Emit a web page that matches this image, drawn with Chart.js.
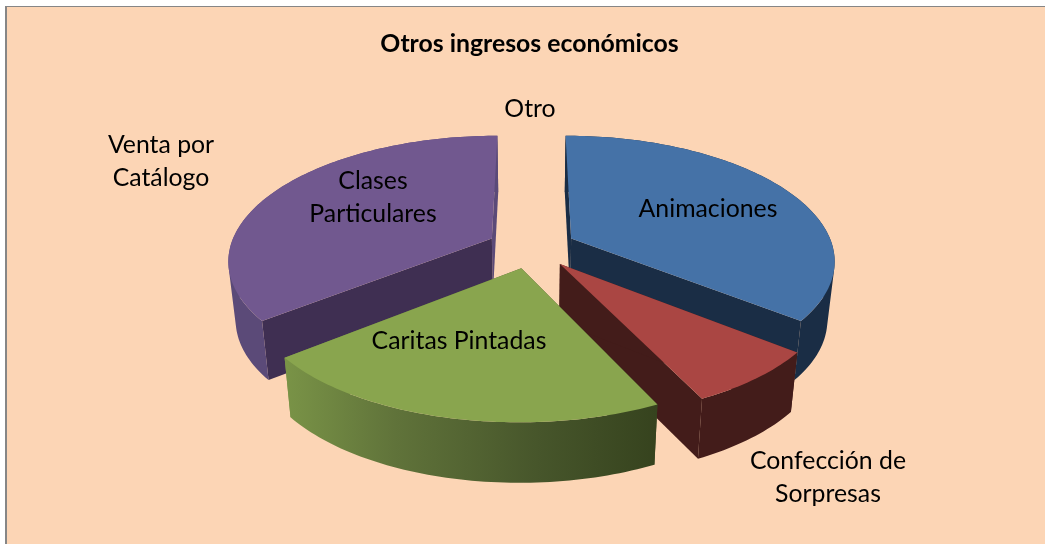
<!DOCTYPE html>
<html>
<head>
<meta charset="utf-8">
<style>
html,body{margin:0;padding:0;background:#fff;width:1045px;height:544px;overflow:hidden}
#panel{position:absolute;left:5px;top:6px;width:1038px;height:537px;background:#fcd5b5;border-left:2px solid #868686;border-top:1px solid #868686}
canvas{position:absolute;left:0;top:0}
</style>
<script src="https://cdn.jsdelivr.net/npm/chart.js@4"></script>
</head>
<body>
<div id="panel"></div>
<canvas id="c" width="1045" height="544" style="width:1045px;height:544px"></canvas>
<script>
const categories = [['Animaciones'],['Confección de','Sorpresas'],['Caritas Pintadas'],['Clases','Particulares'],['Venta por','Catálogo'],['Otro']];
const values = [10,2,6,10,0,0];
const topColors = ['#4572a7','#aa4643','#89a54e','#71588f','#4198af','#db843d'];
const chartTitle = 'Otros ingresos económicos';

// Projection of the tilted disc
const CX=531.5, CY=247.5, RX=262, RY=122, KX=0.165, KY=0.16, EXPLODE=0.17, DEPTH=58, SHRINK=0.976;
// Face colours: [end wall, start wall, outer wall]
const wallColors = [['#1a2d45','#1a2d45','#1a2d45'],['#431c1a','#431c1a','#431c1a'],null,['#5b4a78','#3f2f52','#5b4a78']];
const drawOrder = [0,3,1,2];
const labelAnchors = [[708,209],[828,461],[459,341],[373,181],[161,145],[530,109]];
const LABEL_LINE = 33;

function project(u,v){
  const sx=1/(1-KX*v), sy=1/(1-KY*v);
  return {x:CX+RX*u*sx, y:CY+RY*v*sy, d:DEPTH*Math.pow(sy,0.2)};
}
function down(p){ return {x:CX+(p.x-CX)*SHRINK, y:p.y+p.d}; }
function signedArea(q){
  let s=0;
  q.forEach((p,i)=>{ const r=q[(i+1)%q.length]; s+=p.x*r.y-r.x*p.y; });
  return s;
}

const pie3d = {
  id:'pie3d',
  beforeDatasetDraw(chart,args){
    const ctx=chart.ctx, arcs=args.meta.data;
    const greenGrad=ctx.createLinearGradient(283,0,656,0);
    greenGrad.addColorStop(0,'#7a9447');
    greenGrad.addColorStop(0.3,'#60733a');
    greenGrad.addColorStop(0.68,'#47562b');
    greenGrad.addColorStop(1,'#36431e');
    drawOrder.forEach(i=>{
      const arc=arcs[i];
      const a0=arc.startAngle+Math.PI/2, a1=arc.endAngle+Math.PI/2;
      if(a1-a0<1e-6) return;
      const m=(a0+a1)/2, ou=EXPLODE*Math.sin(m), ov=-EXPLODE*Math.cos(m);
      const rim=[]; const n=Math.max(6,Math.ceil((a1-a0)*48));
      for(let k=0;k<=n;k++){ const t=a0+(a1-a0)*k/n; rim.push(project(ou+Math.sin(t),ov-Math.cos(t))); }
      const apex=project(ou,ov);
      const cols=wallColors[i]||[greenGrad,greenGrad,greenGrad];
      const trace=pts=>{ pts.forEach((p,j)=>j?ctx.lineTo(p.x,p.y):ctx.moveTo(p.x,p.y)); ctx.closePath(); };
      const poly=(pts,fill)=>{ ctx.beginPath(); trace(pts); ctx.fillStyle=fill; ctx.fill(); };
      const last=rim[rim.length-1];
      poly([apex,last,down(last),down(apex)],cols[0]);
      poly([apex,rim[0],down(rim[0]),down(apex)],cols[1]);
      // Outer wall: all strips in one path, wound the same way, so no seams
      ctx.beginPath();
      for(let k=0;k<n;k++){
        const q=[rim[k],rim[k+1],down(rim[k+1]),down(rim[k])];
        trace(signedArea(q)<0?q.reverse():q);
      }
      ctx.fillStyle=cols[2]; ctx.fill();
      poly([apex].concat(rim),arc.options.backgroundColor);
    });
    return false;
  },
  afterDatasetsDraw(chart){
    const ctx=chart.ctx;
    ctx.save();
    ctx.fillStyle='#000';
    ctx.font='24.8px Lato, Carlito, sans-serif';
    ctx.textAlign='center';
    ctx.textBaseline='middle';
    chart.data.labels.forEach((lines,i)=>{
      lines.forEach((t,j)=>ctx.fillText(t,labelAnchors[i][0],labelAnchors[i][1]+j*LABEL_LINE));
    });
    ctx.restore();
  }
};

new Chart(document.getElementById('c'),{
  type:'pie',
  data:{labels:categories,datasets:[{data:values,backgroundColor:topColors,borderWidth:0}]},
  options:{
    responsive:false,
    animation:false,
    layout:{padding:{left:14}},
    plugins:{
      legend:{display:false},
      tooltip:{enabled:false},
      title:{display:true,text:chartTitle,color:'#000',font:{family:'Lato, Carlito, sans-serif',size:24.8,weight:'bold'},padding:{top:29,bottom:10}}
    }
  },
  plugins:[pie3d]
});
</script>
</body>
</html>
